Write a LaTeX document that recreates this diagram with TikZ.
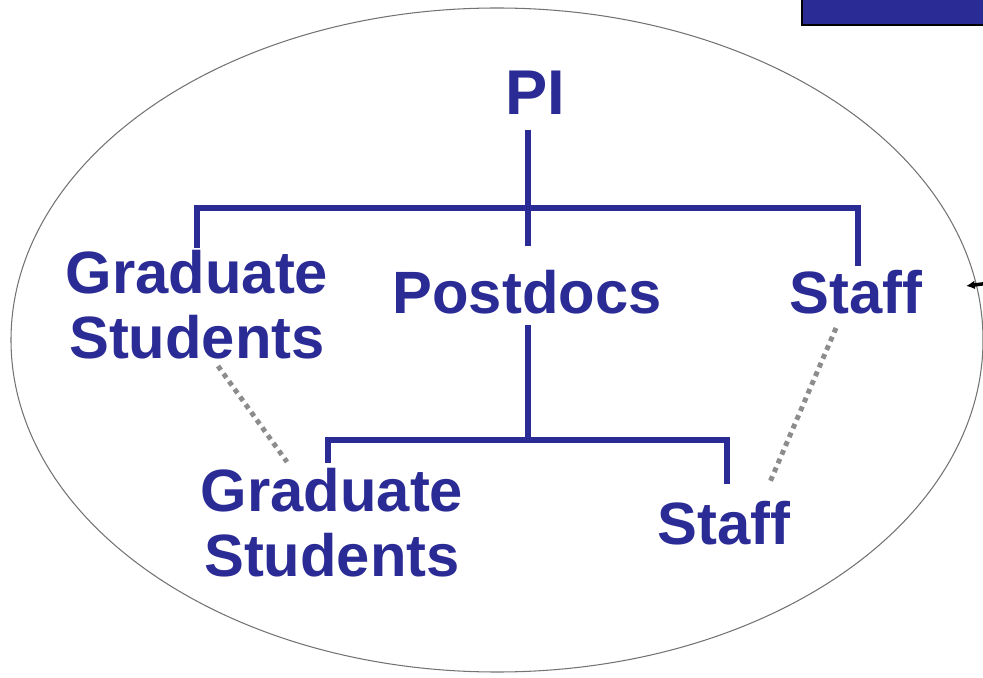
\documentclass[tikz,border=0pt]{standalone}
\usepackage{fontspec}
\setsansfont{Liberation Sans}
\usetikzlibrary{arrows.meta}
\definecolor{piblue}{RGB}{43,43,150}

\begin{document}
\begin{tikzpicture}[x=0.02cm, y=-0.02cm,
        lbl/.style={text=piblue, font=\sffamily\bfseries\fontsize{34}{37}\selectfont, align=center, inner sep=0pt},
        tree/.style={draw=piblue, line width=3.4pt},
        dots/.style={draw=black!45, line width=2.8pt, dash pattern=on 2.8pt off 2.6pt}]
        \useasboundingbox (0,0) rectangle (983,678);
        % group outline and the box in the corner
        \draw[black!55, line width=0.6pt] (497,340) ellipse [x radius=486, y radius=332];
        \filldraw[fill=piblue, draw=black, line width=1pt] (802,-10) rectangle (995,25);
        \coordinate (edge-out) at (990,283);
        \coordinate (edge-in) at (966,286);
        \draw[black, line width=2pt, -{Latex[length=5pt,width=5pt]}] (edge-out) -- (edge-in);

        % people
        \node[lbl, font=\sffamily\bfseries\fontsize{36}{40}\selectfont] (pi) at (535, 93) {PI};
        \node[lbl] (grad1)  at (197, 305) {Graduate\\Students};
        \node[lbl] (post)   at (527, 292) {Postdocs};
        \node[lbl] (staff1) at (856, 292) {Staff};
        \node[lbl] (grad2)  at (332, 523) {Graduate\\Students};
        \node[lbl] (staff2) at (724, 523) {Staff};

        % junctions
        \coordinate (pi-foot)   at (528, 130);
        \coordinate (bar1)      at (528, 208);
        \coordinate (bar1-l)    at (197, 208);
        \coordinate (bar1-r)    at (858, 208);
        \coordinate (grad1-top) at (197, 248);
        \coordinate (post-top)  at (528, 246);
        \coordinate (staff1-top) at (858, 266);
        \coordinate (post-foot) at (528, 325);
        \coordinate (bar2)      at (528, 440);
        \coordinate (bar2-l)    at (328, 440);
        \coordinate (bar2-r)    at (727, 440);
        \coordinate (grad2-top) at (328, 463);
        \coordinate (staff2-top) at (727, 484);

        \draw[tree] (pi-foot) -- (post-top);
        \draw[tree] (grad1-top) -- (bar1-l) -- (bar1-r) -- (staff1-top);
        \draw[tree] (post-foot) -- (bar2);
        \draw[tree] (grad2-top) -- (bar2-l) -- (bar2-r) -- (staff2-top);

        % same people, dotted
        \coordinate (grad1-dot) at (218, 366);
        \coordinate (grad2-dot) at (287, 462);
        \coordinate (staff1-dot) at (836, 328);
        \coordinate (staff2-dot) at (770, 482);
        \draw[dots] (grad1-dot) -- (grad2-dot);
        \draw[dots] (staff1-dot) -- (staff2-dot);
\end{tikzpicture}
\end{document}
